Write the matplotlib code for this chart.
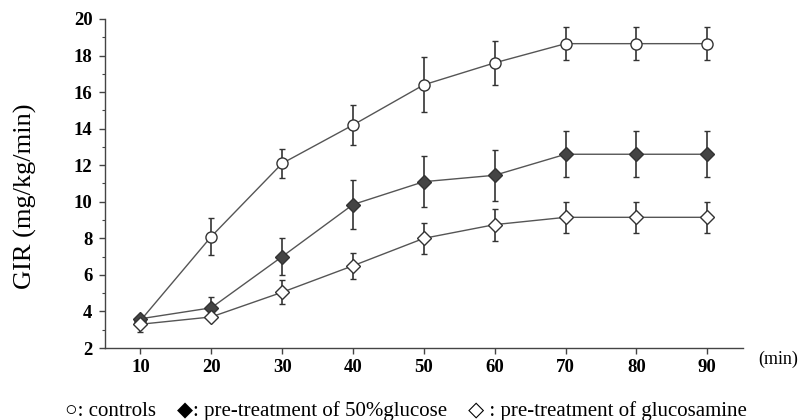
import matplotlib
matplotlib.use("Agg")
import matplotlib.pyplot as plt
from matplotlib.ticker import MultipleLocator

# time points (min)
minutes = [10, 20, 30, 40, 50, 60, 70, 80, 90]

# GIR (mg/kg/min), mean and error
controls = [3.5, 8.1, 12.1, 14.2, 16.4, 17.6, 18.65, 18.65, 18.65]
controls_err = [0.0, 1.0, 0.8, 1.1, 1.5, 1.2, 0.9, 0.9, 0.9]

glucose = [3.6, 4.2, 7.0, 9.85, 11.1, 11.45, 12.6, 12.6, 12.6]
glucose_err = [0.0, 0.6, 1.0, 1.35, 1.4, 1.4, 1.25, 1.25, 1.25]

glucosamine = [3.3, 3.7, 5.05, 6.5, 8.0, 8.75, 9.15, 9.15, 9.15]
glucosamine_err = [0.4, 0.15, 0.65, 0.7, 0.85, 0.88, 0.85, 0.85, 0.85]

serif = ["Liberation Serif", "DejaVu Serif"]
plt.rcParams["font.family"] = serif

fig = plt.figure(figsize=(7.98, 4.2), dpi=100)
ax = fig.add_axes([0.1316, 0.1714, 0.7991, 0.7834])

line_col = "#555555"
err_col = "#333333"

# controls: open circles
ax.errorbar(minutes, controls, yerr=controls_err, color=line_col, lw=1.0,
            ecolor=err_col, elinewidth=1.2, capsize=2.3, capthick=1.2,
            marker="o", ms=8, mfc="white", mec="#333333", mew=1.0, zorder=3)
# 50% glucose: filled diamonds
ax.errorbar(minutes, glucose, yerr=glucose_err, color=line_col, lw=1.0,
            ecolor=err_col, elinewidth=1.2, capsize=2.3, capthick=1.2,
            marker="D", ms=7, mfc="#444444", mec="#333333", mew=1.0, zorder=3)
# glucosamine: open diamonds
ax.errorbar(minutes, glucosamine, yerr=glucosamine_err, color=line_col, lw=1.0,
            ecolor=err_col, elinewidth=1.2, capsize=2.3, capthick=1.2,
            marker="D", ms=7, mfc="white", mec="#333333", mew=1.0, zorder=3)

ax.set_xlim(5, 95)
ax.set_ylim(2, 20)
ax.set_xticks(minutes)
ax.yaxis.set_major_locator(MultipleLocator(2))
ax.yaxis.set_minor_locator(MultipleLocator(1))

for s in ["top", "right"]:
    ax.spines[s].set_visible(False)
for s in ["left", "bottom"]:
    ax.spines[s].set_color("#444444")
    ax.spines[s].set_linewidth(1.0)

ax.tick_params(axis="both", which="major", direction="out", length=4,
               width=1.0, color="#444444", labelsize=13.5)
ax.tick_params(axis="y", which="major", pad=5)
ax.tick_params(axis="x", which="major", pad=4)
ax.tick_params(axis="y", which="minor", direction="out", length=2.5,
               width=0.8, color="#444444")
for lab in ax.get_xticklabels() + ax.get_yticklabels():
    lab.set_fontweight("bold")

ax.set_ylabel("GIR (mg/kg/min)", fontsize=19)
ax.yaxis.set_label_coords(-0.107, 0.46)

fig.text(0.975, 0.145, "(min)", fontsize=13, ha="center", va="center")

fig.text(0.509, 0.022,
         "\u25cb: controls    \u25c6: pre-treatment of 50%glucose    \u25c7 : pre-treatment of glucosamine",
         fontsize=15, ha="center", va="center", family=serif)

fig.savefig("out.png", dpi=100)
